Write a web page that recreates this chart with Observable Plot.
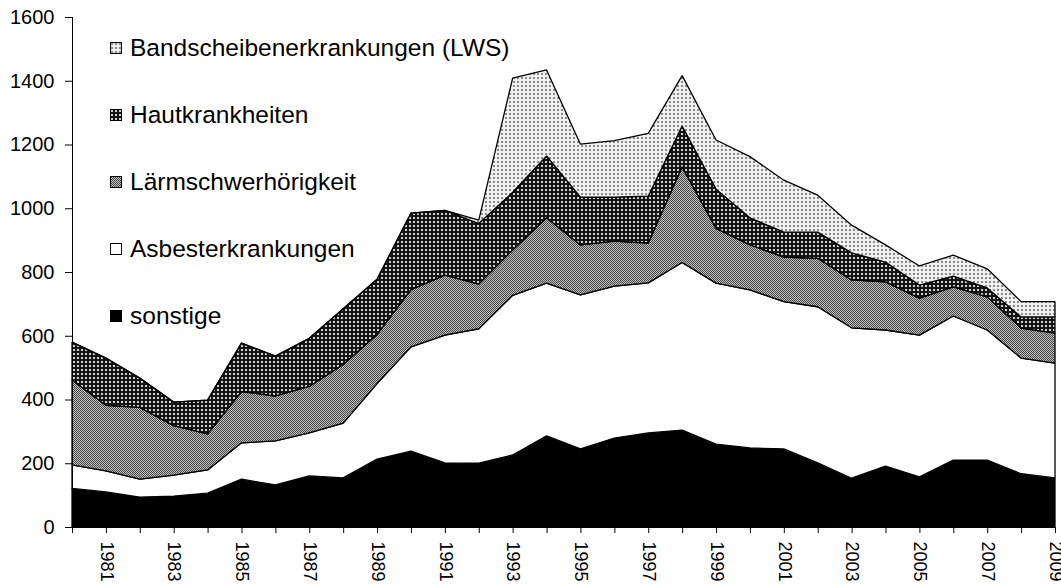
<!DOCTYPE html>
<html><head><meta charset="utf-8">
<script src="https://cdn.jsdelivr.net/npm/d3@7"></script>
<script src="https://cdn.jsdelivr.net/npm/@observablehq/plot@0.6"></script>
<style>
body{margin:0;background:#fff;font-family:"Liberation Sans",Arial,sans-serif;}
#wrap{position:relative;width:1061px;height:584px;overflow:hidden;}
#legend{position:absolute;left:110px;top:14px;}
.row{display:flex;align-items:center;height:67px;font-size:24.5px;color:#000;white-space:nowrap;}
.sw{width:12px;height:12px;min-width:12px;flex-shrink:0;margin-right:8px;display:block;overflow:visible;}
</style></head><body>
<svg width="0" height="0" style="position:absolute"><defs>
<pattern id="pLWS" width="4" height="4" patternUnits="userSpaceOnUse"><rect width="4" height="4" fill="#f0f0f0"/><rect x="1" y="1" width="2" height="2" fill="#8a8a8a"/></pattern>
<pattern id="pHaut" width="4" height="4" patternUnits="userSpaceOnUse"><rect width="4" height="4" fill="#151515"/><rect x="1" y="1" width="2" height="2" fill="#d0d0d0"/></pattern>
<pattern id="pLaerm" width="2" height="2" patternUnits="userSpaceOnUse"><rect width="2" height="2" fill="#bdbdbd"/><rect x="0" y="0" width="1" height="1" fill="#4a4a4a"/><rect x="1" y="1" width="1" height="1" fill="#4a4a4a"/></pattern>
</defs></svg>
<div id="wrap"><div id="chart"></div><div id="legend"></div></div>
<script>
const years = [1980,1981,1982,1983,1984,1985,1986,1987,1988,1989,1990,1991,1992,1993,1994,1995,1996,1997,1998,1999,2000,2001,2002,2003,2004,2005,2006,2007,2008,2009];
const sonstige = [121,110,94,97,106,150,132,160,154,213,238,201,200,226,286,245,279,295,304,260,248,245,201,153,191,157,210,210,167,154];
const asbest   = [74,66,56,66,73,114,138,135,172,237,327,401,422,501,479,483,477,471,526,505,496,462,490,472,427,445,452,408,363,360];
const laerm    = [266,206,225,155,113,161,141,146,184,154,180,188,140,142,205,157,141,125,300,172,141,140,152,150,151,116,91,104,94,94];
const haut     = [119,148,92,74,106,152,125,151,175,173,240,203,190,181,194,150,138,147,128,123,85,78,82,85,62,41,34,28,35,51];
const lws      = [0,0,0,0,0,0,0,0,0,0,0,0,11,358,270,166,177,197,158,154,192,163,116,87,54,60,66,60,48,48];

const seriesNames = ["sonstige","Asbesterkrankungen","Lärmschwerhörigkeit","Hautkrankheiten","Bandscheibenerkrankungen (LWS)"];
const seriesValues = [sonstige, asbest, laerm, haut, lws];
const seriesFills = ["#000000","#ffffff","url(#pLaerm)","url(#pHaut)","url(#pLWS)"];
const yTicks = [0,200,400,600,800,1000,1200,1400,1600];
const xTickLabels = [1981,1983,1985,1987,1989,1991,1993,1995,1997,1999,2001,2003,2005,2007,2009];

const data = years.flatMap((yr,i)=>seriesNames.map((s,j)=>({year:yr, series:s, value:seriesValues[j][i]})));

const chart = Plot.plot({
  width:1061, height:584,
  marginLeft:72, marginRight:6, marginTop:17, marginBottom:57,
  style:{fontFamily:"'Liberation Sans', Arial, sans-serif", fontSize:"20px", background:"#fff", color:"#000"},
  x:{domain:[1980,2009]},
  y:{domain:[0,1600]},
  color:{domain:seriesNames, range:seriesFills},
  marks:[
    Plot.areaY(data, {x:"year", y:"value", z:"series", fill:"series", order:seriesNames, stroke:"#000", strokeWidth:1.3, strokeLinejoin:"miter"}),
    Plot.ruleX([1980], {stroke:"#000", strokeWidth:1}),
    Plot.ruleY([0], {stroke:"#000", strokeWidth:1}),
    Plot.axisY({ticks:yTicks, tickSize:7, tickPadding:11, label:null, tickFormat:d=>String(d)}),
    Plot.axisX({ticks:years, tickSize:6, tickPadding:8, tickRotate:90, label:null, fontSize:18, tickFormat:d=>xTickLabels.includes(d)?String(d):""})
  ]
});
document.getElementById("chart").appendChild(chart);

const legend = document.getElementById("legend");
seriesNames.slice().reverse().forEach(name=>{
  const idx = seriesNames.indexOf(name);
  const row = document.createElement("div");
  row.className = "row";
  row.innerHTML = `<svg class="sw" width="12" height="12" viewBox="0 0 12 12"><rect x="0.5" y="0.5" width="11" height="11" fill="${seriesFills[idx]}" stroke="#000" stroke-width="1"/></svg><span>${name}</span>`;
  legend.appendChild(row);
});
</script>
</body></html>
